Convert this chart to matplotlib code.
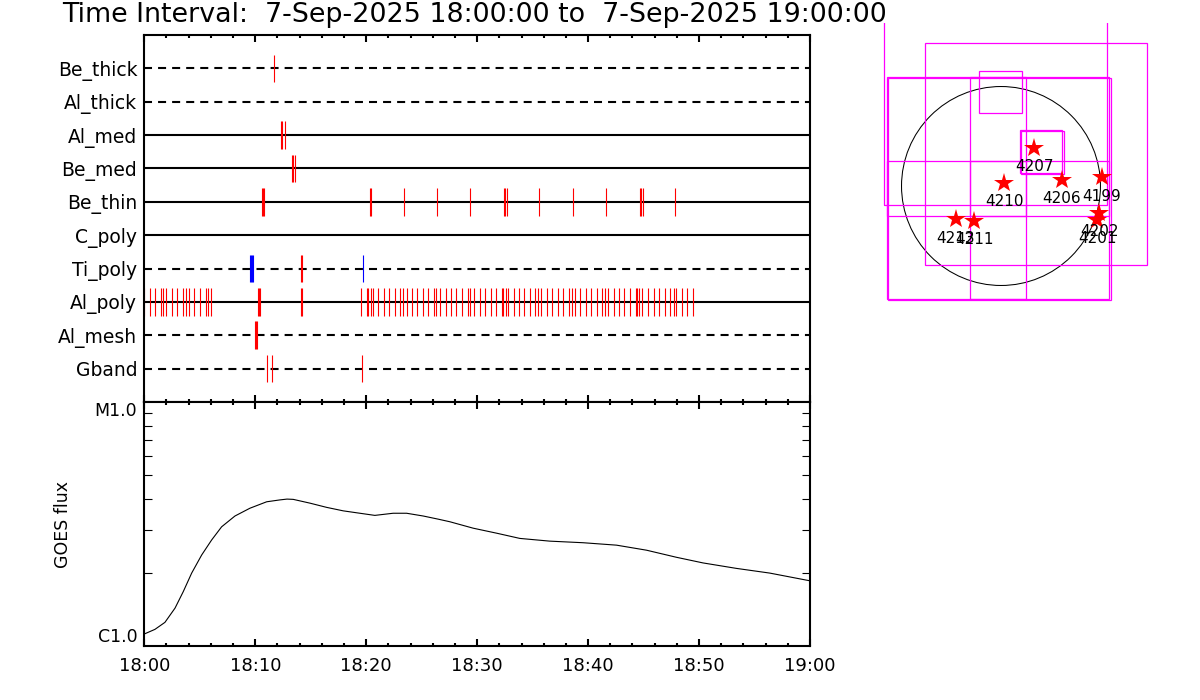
import matplotlib
matplotlib.use("Agg")
import matplotlib.pyplot as plt
from matplotlib.patches import Rectangle, Circle
from matplotlib.ticker import MultipleLocator, LogLocator, NullFormatter

# ---- data -------------------------------------------------------------------
# filter rows, top to bottom
rows = ["Be_thick", "Al_thick", "Al_med", "Be_med", "Be_thin",
        "C_poly", "Ti_poly", "Al_poly", "Al_mesh", "Gband"]
dashed_rows = ["Be_thick", "Al_thick", "Ti_poly", "Al_mesh", "Gband"]

# exposure times, minutes after 18:00 (red marks)
be_thick_t = [11.71]
al_thick_t = []
al_med_t = [12.33, 12.42, 12.70]
be_med_t = [13.35, 13.44, 13.60]
be_thin_t = [10.62, 10.71, 10.80, 20.33, 20.45, 23.42, 26.40, 29.37,
             32.42, 32.51, 32.70, 35.59, 38.65, 41.62, 44.66, 44.75,
             44.95, 47.84]
c_poly_t = []
ti_poly_t = [14.16, 14.25]
al_poly_t = [0.0, 0.54, 0.99, 1.53, 1.71, 1.98, 2.52, 2.97, 3.51, 3.78,
             4.00, 4.50, 5.05, 5.53, 5.77, 6.04,
             10.27, 10.36, 10.45, 14.16, 14.25,
             19.55, 20.09, 20.18, 20.40, 20.63, 21.08, 21.62, 22.07, 22.61,
             23.06, 23.33, 23.69, 24.14, 24.59, 25.13, 25.59, 26.13, 26.31,
             26.67, 27.21, 27.66, 28.11, 28.65, 29.19, 29.34, 29.73, 30.27,
             30.72, 31.26, 31.71, 32.25, 32.34, 32.61, 32.79, 33.33, 33.78,
             34.23, 34.77, 35.23, 35.50, 35.77, 36.31, 36.76, 37.30, 37.75,
             38.29, 38.56, 38.83, 39.28, 39.82, 40.27, 40.81, 41.26, 41.53,
             41.80, 42.34, 42.79, 43.24, 43.78, 44.32, 44.45, 44.59, 44.86,
             45.41, 45.95, 46.40, 46.94, 47.39, 47.75, 47.93, 48.47, 48.92,
             49.46]
al_mesh_t = [9.97, 10.06, 10.15]
gband_t = [11.08, 11.53, 19.64]
# blue marks (Ti_poly only)
ti_poly_blue_t = [9.56, 9.65, 9.74, 9.83, 19.73]

# GOES flux curve
goes_t = [0.0, 0.96, 1.86, 2.77, 3.51, 4.27, 5.17, 6.07, 6.97, 8.17, 9.52,
          11.03, 12.23, 12.86, 13.42, 14.93, 16.43, 17.93, 19.43, 20.78,
          22.43, 23.64, 25.14, 26.49, 27.54, 29.64, 31.75, 33.85, 36.55,
          39.55, 42.56, 45.26, 47.96, 50.36, 53.37, 56.37, 60.0]
goes_flux = [1.12e-6, 1.17e-6, 1.25e-6, 1.43e-6, 1.67e-6, 1.99e-6, 2.36e-6,
             2.72e-6, 3.08e-6, 3.41e-6, 3.67e-6, 3.90e-6, 3.97e-6, 4.00e-6,
             3.99e-6, 3.85e-6, 3.70e-6, 3.58e-6, 3.50e-6, 3.43e-6, 3.50e-6,
             3.50e-6, 3.41e-6, 3.31e-6, 3.23e-6, 3.04e-6, 2.90e-6, 2.76e-6,
             2.69e-6, 2.65e-6, 2.59e-6, 2.47e-6, 2.31e-6, 2.19e-6, 2.08e-6,
             1.99e-6, 1.85e-6]

time_labels = ["18:00", "18:10", "18:20", "18:30", "18:40", "18:50", "19:00"]

# solar map (arcsec)
sun_radius = 955
ar_numbers = ["4207", "4210", "4206", "4199", "4202", "4201", "4213", "4211"]
ar_x = [317, 29, 586, 970, 941, 922, -432, -259]
ar_y = [365, 29, 58, 86, -259, -326, -317, -336]
# field-of-view boxes: x0, y0, x1, y1
fov_boxes = [
    (-1123, -182, 1018, 1900),
    (-730, -758, 1402, 1373),
    (-211, 701, 202, 1104),
    (-1094, -288, 240, 1046),
    (-298, -288, 1037, 1046),
    (-1094, -1085, 240, 240),
    (-298, -1085, 1037, 240),
    (-1085, -1094, 1056, 1037),
    (182, 125, 586, 538),
    (192, 115, 605, 528),
]

# ---- figure -----------------------------------------------------------------
W, H = 1200, 700
fig = plt.figure(figsize=(12, 7), dpi=100)
plt.rcParams["font.family"] = ["DejaVu Sans"]

fig.text(62 / W, 1 - 15 / H,
         "Time Interval:  7-Sep-2025 18:00:00 to  7-Sep-2025 19:00:00",
         fontsize=19.4, ha="left", va="center")

left, right = 144.3, 810
ax = fig.add_axes([left / W, (H - 402) / H, (right - left) / W, 367 / H])
ax2 = fig.add_axes([left / W, (H - 646) / H, (right - left) / W, 244 / H])

# top panel: exposure timeline
red_events = [be_thick_t, al_thick_t, al_med_t, be_med_t, be_thin_t,
              c_poly_t, ti_poly_t, al_poly_t, al_mesh_t, gband_t]
for i, name in enumerate(rows):
    y = i + 1
    if name in dashed_rows:
        ax.plot([0, 60], [y, y], color="black", lw=1.5, dashes=(3.85, 2.9),
                zorder=1)
    else:
        ax.plot([0, 60], [y, y], color="black", lw=1.5, zorder=1)
    if red_events[i]:
        ax.vlines(red_events[i], y - 0.415, y + 0.415, colors="red", lw=0.8,
                  zorder=2)
ti_row = rows.index("Ti_poly") + 1
ax.vlines(ti_poly_blue_t, ti_row - 0.415, ti_row + 0.415, colors="blue",
          lw=0.8, zorder=2)

ax.set_xlim(0, 60)
ax.set_ylim(11, 0)
ax.set_yticks(range(1, 11))
ax.set_yticklabels(rows, fontsize=13.5)
ax.tick_params(axis="y", length=0, pad=5)
ax.xaxis.set_major_locator(MultipleLocator(10))
ax.xaxis.set_minor_locator(MultipleLocator(2))
ax.tick_params(axis="x", which="both", direction="in", top=True, bottom=True,
               labelbottom=False, width=1.5)
ax.tick_params(axis="x", which="major", length=5)
ax.tick_params(axis="x", which="minor", length=2.5)
for sp in ax.spines.values():
    sp.set_linewidth(1.5)

# bottom panel: GOES flux
ax2.plot(goes_t, goes_flux, color="black", lw=0.8)
ax2.set_yscale("log")
ax2.set_xlim(0, 60)
ax2.set_ylim(1e-6, 1e-5)
ax2.set_xticks(range(0, 61, 10))
ax2.set_xticklabels(time_labels, fontsize=13)
ax2.xaxis.set_minor_locator(MultipleLocator(2))
ax2.tick_params(axis="x", which="both", direction="in", top=True, bottom=True,
                width=1.5, pad=8)
ax2.tick_params(axis="x", which="major", length=5)
ax2.tick_params(axis="x", which="minor", length=2.5)
ax2.set_yticks([1e-6, 1e-5])
ax2.set_yticklabels(["C1.0", "M1.0"], fontsize=12.5)
ax2.yaxis.set_minor_locator(LogLocator(base=10, subs=range(2, 10)))
ax2.yaxis.set_minor_formatter(NullFormatter())
ax2.tick_params(axis="y", which="both", direction="in", left=True, right=True,
                pad=5)
ax2.tick_params(axis="y", which="major", length=0)
ax2.tick_params(axis="y", which="minor", length=5.5, width=0.8)
for lab, va in zip(ax2.get_yticklabels(), ["bottom", "top"]):
    lab.set_va(va)
ax2.set_ylabel("GOES flux", fontsize=12.5)
ax2.yaxis.set_label_coords(-0.108, 0.5)
for sp in ax2.spines.values():
    sp.set_linewidth(1.5)

# right: solar disk map
scale = 9.6  # arcsec per pixel
cx, cy = 1001, 186
axm = fig.add_axes([870 / W, (H - 310) / H, 300 / W, 287 / H])
axm.set_xlim((870 - cx) * scale, (1170 - cx) * scale)
axm.set_ylim((cy - 310) * scale, (cy - 23) * scale)
axm.axis("off")
axm.add_patch(Circle((0, 0), sun_radius, fill=False, color="black", lw=0.75))
for x0, y0, x1, y1 in fov_boxes:
    axm.add_patch(Rectangle((x0, y0), x1 - x0, y1 - y0, fill=False,
                            edgecolor="#ff00ff", lw=0.9))
axm.plot(ar_x, ar_y, linestyle="none", marker="*", color="red",
         markersize=15, markeredgewidth=0)
for num, x, y in zip(ar_numbers, ar_x, ar_y):
    axm.annotate(num, (x, y), xytext=(0, -19), textcoords="offset pixels",
                 ha="center", va="center", fontsize=11)

fig.savefig("out.png", dpi=100)
